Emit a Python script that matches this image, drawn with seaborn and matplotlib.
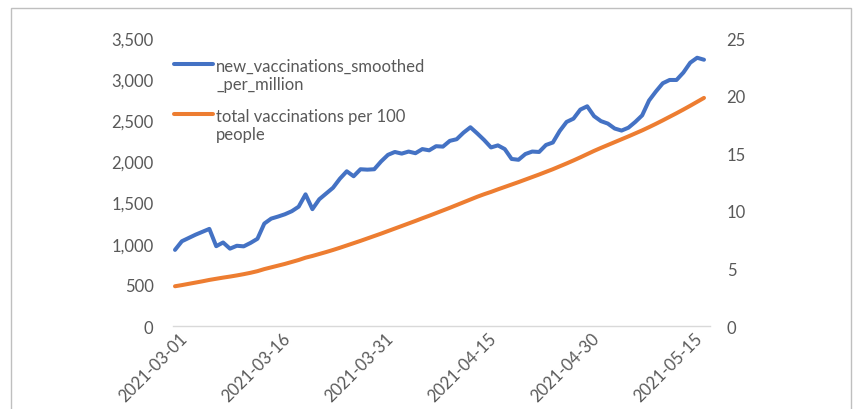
"""
Recreation of an Excel-style dual-axis line chart: daily smoothed new
vaccinations per million (left axis) and cumulative vaccinations per 100
people (right axis), March to mid-May 2021.
"""

import matplotlib
matplotlib.use("Agg")
import matplotlib.pyplot as plt
import matplotlib.patches as mpatches
import matplotlib.transforms as mtransforms
from matplotlib.legend_handler import HandlerLine2D
import pandas as pd
import seaborn as sns

# --- data ---
start_date = "2021-03-01"

new_vacc_per_million = [
    925, 1030, 1070, 1110, 1145, 1180, 970, 1015, 940, 975,
    968, 1010, 1060, 1245, 1305, 1330, 1358, 1395, 1450, 1600,
    1420, 1540, 1610, 1680, 1790, 1880, 1820, 1905, 1900, 1905,
    2000, 2080, 2115, 2095, 2120, 2100, 2150, 2135, 2185, 2180,
    2250, 2270, 2350, 2415, 2340, 2260, 2170, 2195, 2150, 2030,
    2020, 2090, 2120, 2115, 2200, 2230, 2370, 2480, 2520, 2630,
    2670, 2550, 2490, 2460, 2400, 2375, 2410, 2480, 2560, 2740,
    2850, 2950, 2990, 2990, 3080, 3200, 3260, 3236,
]

total_vacc_per_hundred = [
    3.45, 3.55, 3.66, 3.77, 3.88, 4.00, 4.10, 4.20, 4.29, 4.39,
    4.50, 4.62, 4.76, 4.94, 5.09, 5.24, 5.39, 5.56, 5.73, 5.93,
    6.08, 6.25, 6.42, 6.60, 6.79, 6.99, 7.19, 7.39, 7.60, 7.81,
    8.02, 8.24, 8.46, 8.68, 8.90, 9.12, 9.35, 9.57, 9.80, 10.03,
    10.26, 10.50, 10.74, 10.98, 11.22, 11.44, 11.64, 11.86, 12.07, 12.28,
    12.49, 12.71, 12.93, 13.15, 13.38, 13.61, 13.86, 14.11, 14.37, 14.64,
    14.92, 15.20, 15.46, 15.71, 15.96, 16.21, 16.46, 16.72, 16.98, 17.26,
    17.55, 17.85, 18.16, 18.47, 18.79, 19.12, 19.46, 19.80,
]

x_tick_labels = ["2021-03-01", "2021-03-16", "2021-03-31",
                 "2021-04-15", "2021-04-30", "2021-05-15"]
left_ticks = [0, 500, 1000, 1500, 2000, 2500, 3000, 3500]
right_ticks = [0, 5, 10, 15, 20, 25]

label_new = "new_vaccinations_smoothed\n_per_million"
label_total = "total vaccinations per 100\npeople"

df = pd.DataFrame({
    "date": pd.date_range(start_date, periods=len(new_vacc_per_million), freq="D"),
    "new": new_vacc_per_million,
    "total": total_vacc_per_hundred,
})

# --- style ---
BLUE = "#4472C4"
ORANGE = "#ED7D31"
TEXT = "#595959"
FS = 12

sns.set_theme(style="white")
plt.rcParams["font.family"] = ["Lato", "DejaVu Sans"]


class TopAlignedLine(HandlerLine2D):
    """Legend line drawn level with the first line of a two-line label."""

    def create_artists(self, legend, orig_handle, xdescent, ydescent,
                       width, height, fontsize, trans):
        artists = super().create_artists(legend, orig_handle, xdescent, ydescent,
                                         width, height, fontsize, trans)
        for a in artists:
            a.set_ydata([y + 0.68 * fontsize for y in a.get_ydata()])
        return artists


fig = plt.figure(figsize=(8.64, 4.10), dpi=100)
ax = fig.add_axes([173 / 864, 1 - 327 / 410, (710 - 173) / 864, (327 - 39) / 410])
ax2 = ax.twinx()

sns.lineplot(data=df, x="date", y="new", ax=ax, color=BLUE, linewidth=2.9,
             legend=False)
sns.lineplot(data=df, x="date", y="total", ax=ax2, color=ORANGE, linewidth=2.9,
             legend=False)

# axes limits / ticks
t0 = df["date"].iloc[0]
ax.set_xlim(t0 - pd.Timedelta(hours=7), df["date"].iloc[-1] + pd.Timedelta(hours=21))
ax.set_ylim(0, 3500)
ax2.set_ylim(0, 25)

ax.set_xticks(pd.to_datetime(x_tick_labels))
ax.set_xticklabels(x_tick_labels, rotation=45, ha="right")
ax.set_yticks(left_ticks)
ax.set_yticklabels([f"{v:,}" for v in left_ticks])
ax2.set_yticks(right_ticks)
ax2.set_yticklabels([str(v) for v in right_ticks])

ax.tick_params(axis="x", length=0, pad=3, labelsize=FS, labelcolor=TEXT)
ax.tick_params(axis="y", length=0, pad=14, labelsize=FS, labelcolor=TEXT)
ax2.tick_params(axis="y", length=0, pad=12, labelsize=FS, labelcolor=TEXT)

# Excel puts the end of each slanted date a little right of its tick
shift = mtransforms.ScaledTranslation(15 / 100, 0, fig.dpi_scale_trans)
for lbl in ax.get_xticklabels():
    lbl.set_transform(lbl.get_transform() + shift)

ax.set_xlabel("")
ax.set_ylabel("")
ax2.set_ylabel("")
ax.grid(False)
ax2.grid(False)

for a in (ax, ax2):
    for side in ("top", "left", "right", "bottom"):
        a.spines[side].set_visible(False)
ax.spines["bottom"].set_visible(True)
ax.spines["bottom"].set_color("#d9d9d9")
ax.spines["bottom"].set_linewidth(1.0)

# legend inside the plot, upper left
handles = [
    plt.Line2D([0], [0], color=BLUE, linewidth=2.9),
    plt.Line2D([0], [0], color=ORANGE, linewidth=2.9),
]
ax2.legend(handles, [label_new, label_total], loc="upper left",
           bbox_to_anchor=(-0.026, 0.985), frameon=False, fontsize=FS,
           handlelength=2.35, handletextpad=0.18, labelspacing=0.95,
           labelcolor=TEXT, handler_map={plt.Line2D: TopAlignedLine()})

# thin chart-area border like the Excel frame
border = mpatches.Rectangle((11 / 864, -0.05), (851 - 11) / 864, 1 - 9 / 410 + 0.05,
                            transform=fig.transFigure, fill=False,
                            edgecolor="#bfbfbf", linewidth=1.0, clip_on=False)
fig.patches.append(border)

fig.savefig("out.png", dpi=100, facecolor="white")
plt.close(fig)
